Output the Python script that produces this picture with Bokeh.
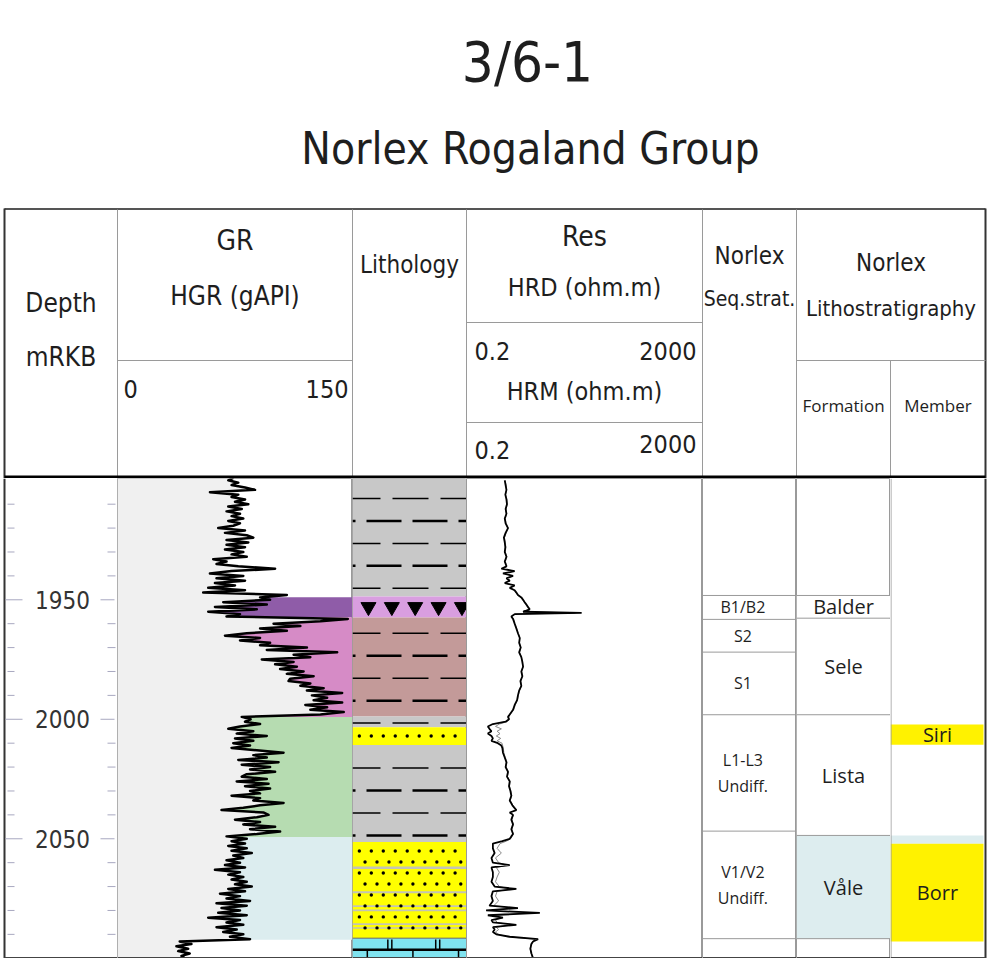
import numpy as np
from bokeh.plotting import figure
from bokeh.layouts import column, row
from bokeh.models import Range1d, Span
from bokeh.core.properties import value
from bokeh.embed import file_html
from bokeh.resources import INLINE

# ---------------- data ----------------
title_well = "3/6-1"
title_group = "Norlex Rogaland Group"

depth_major = [1950, 2000, 2050]
depth_minor = [1910, 1920, 1930, 1940, 1960, 1970, 1980, 1990,
               2010, 2020, 2030, 2040, 2060, 2070, 2080, 2090]

# Gamma ray (gAPI), one reading per metre 1899..2100
gr_depth = list(range(1899, 2101))
gr_values = [
    73.9, 70.7, 77.1, 72.8, 81.4, 87.8, 59.0, 77.1, 72.8, 81.4,
    75.0, 83.5, 70.7, 79.3, 69.6, 78.2, 72.8, 80.3, 70.7, 78.2,
    73.9, 64.3, 81.4, 68.6, 82.5, 86.7, 69.6, 83.5, 69.6, 81.4,
    68.6, 80.3, 72.8, 82.5, 61.1, 69.6, 63.2, 77.1, 100.6, 72.8,
    59.0, 80.3, 63.2, 81.4, 62.2, 75.0, 57.9, 81.4, 54.7, 108.1,
    91.0, 97.4, 67.5, 95.3, 62.2, 88.9, 57.9, 78.2, 69.6, 147.0,
    129.5, 99.6, 116.7, 91.0, 108.1, 82.5, 68.6, 91.0, 78.2, 97.4,
    91.0, 120.9, 95.3, 140.2, 112.4, 123.1, 92.1, 112.4, 100.6, 114.5,
    103.8, 118.8, 108.1, 125.2, 110.2, 109.2, 123.1, 116.7, 131.6, 120.9,
    143.4, 124.1, 133.8, 125.2, 143.4, 119.9, 133.8, 123.1, 144.4, 129.5,
    79.3,
    85.0, 81.4, 91.0, 78.2, 70.7, 86.7, 76.1, 95.3, 75.0, 86.7,
    73.9, 84.6, 72.8, 88.9, 106.0, 86.7, 95.3, 77.1, 102.8, 79.3,
    97.4, 84.6, 100.6, 82.5, 79.3, 95.3, 76.1, 96.4, 81.4, 97.4,
    84.6, 91.0, 72.8, 91.0, 86.7, 106.0, 91.0, 80.3, 66.4, 93.1,
    96.4, 88.9, 75.0, 91.0, 80.3, 100.6, 84.6, 103.8, 88.9, 69.6,
    82.5, 72.8, 81.4, 70.7, 82.5, 72.8, 85.7, 73.9, 80.3, 69.6,
    78.2, 68.6, 81.4, 62.2, 78.2, 70.7, 80.3, 72.8, 82.5, 75.0,
    85.7, 70.7, 81.4, 65.4, 78.2, 69.6, 84.6, 63.2, 82.5, 66.4,
    78.2, 64.3, 82.5, 57.9, 78.2, 69.6, 80.3, 63.2, 76.1, 67.5,
    80.3, 71.8, 84.6, 39.7, 47.2, 37.6, 45.1, 38.7, 46.1, 40.8,
    42.9,
]

# Resistivity (ohm.m)
res_depth = [
    1900, 1902, 1904, 1906, 1908, 1910, 1912, 1914, 1916, 1918,
    1920, 1922, 1924, 1926, 1928, 1930, 1932, 1934, 1936, 1937,
    1938, 1939, 1940, 1941, 1942, 1943, 1944, 1945, 1946, 1947,
    1948, 1949, 1950, 1951, 1952, 1953, 1954, 1955, 1955.5, 1956,
    1957, 1958, 1960, 1962, 1964, 1966, 1968, 1970, 1972, 1974,
    1976, 1978, 1980, 1982, 1984, 1986, 1988, 1990, 1992, 1994,
    1996, 1998, 1999, 2000, 2001, 2002, 2003, 2004, 2005, 2006,
    2007, 2008, 2009, 2010, 2011, 2012, 2014, 2016, 2018, 2020,
    2022, 2024, 2026, 2028, 2030, 2032, 2034, 2036, 2038, 2039,
    2040, 2042, 2044, 2046, 2048, 2049, 2050, 2051, 2052, 2054,
    2056, 2058, 2060, 2061, 2062, 2064, 2066, 2068, 2070, 2071,
    2072, 2074, 2076, 2078, 2079, 2080, 2081, 2082, 2083, 2084,
    2085, 2086, 2087, 2088, 2089, 2090, 2091, 2092, 2093, 2094,
    2096, 2098, 2100,
]
hrd = [
    0.89, 0.92, 0.95, 0.91, 0.95, 0.97, 0.92, 0.95, 0.89, 0.92,
    1.01, 0.92, 0.86, 0.89, 0.91, 0.89, 0.95, 0.89, 0.95, 0.78,
    1.31, 0.83, 1.23, 0.95, 1.08, 0.89, 1.31, 1.08, 1.31, 1.40,
    1.49, 1.70, 1.82, 1.94, 2.07, 2.21, 2.36, 1.82, 17.9, 1.31,
    1.15, 1.23, 1.31, 1.40, 1.49, 1.60, 1.56, 1.66, 1.56, 1.70,
    1.77, 1.82, 1.70, 1.77, 1.64, 1.70, 1.56, 1.49, 1.44, 1.31,
    1.23, 1.08, 1.01, 1.05, 0.92, 0.56, 0.46, 0.49, 0.53, 0.46,
    0.53, 0.56, 0.53, 0.68, 0.78, 0.81, 0.83, 0.89, 0.95, 0.92,
    1.01, 0.97, 1.08, 1.05, 1.11, 1.15, 1.08, 1.20, 1.40, 1.08,
    1.23, 1.15, 1.23, 1.15, 1.23, 1.15, 1.08, 0.81, 0.56, 0.56,
    0.60, 0.53, 0.56, 1.08, 0.53, 0.56, 0.56, 0.53, 0.60, 1.40,
    0.56, 0.53, 0.56, 0.49, 1.49, 0.43, 3.50, 0.46, 0.83, 0.53,
    0.56, 1.40, 0.56, 0.60, 0.56, 0.64, 1.08, 3.27, 2.69, 2.52,
    2.42, 2.52, 2.69,
]
hrm = [
    0.90, 0.94, 0.96, 0.92, 0.97, 0.98, 0.94, 0.96, 0.91, 0.94,
    1.02, 0.94, 0.88, 0.91, 0.93, 0.91, 0.97, 0.91, 0.97, 0.84,
    1.25, 0.88, 1.18, 0.98, 1.10, 0.92, 1.25, 1.10, 1.28, 1.38,
    1.47, 1.66, 1.78, 1.90, 2.02, 2.15, 2.28, 1.85, 14.0, 1.35,
    1.18, 1.25, 1.33, 1.42, 1.50, 1.60, 1.58, 1.66, 1.58, 1.70,
    1.76, 1.80, 1.72, 1.76, 1.66, 1.70, 1.58, 1.51, 1.46, 1.34,
    1.26, 1.10, 1.04, 1.07, 0.98, 0.72, 0.62, 0.78, 0.66, 0.74,
    0.64, 0.76, 0.66, 0.80, 0.82, 0.84, 0.86, 0.91, 0.97, 0.94,
    1.03, 0.99, 1.10, 1.07, 1.13, 1.17, 1.10, 1.22, 1.36, 1.12,
    1.24, 1.18, 1.24, 1.18, 1.24, 1.18, 1.12, 0.95, 0.74, 0.66,
    0.78, 0.62, 0.70, 0.95, 0.64, 0.72, 0.66, 0.62, 0.72, 1.10,
    0.66, 0.62, 0.70, 0.58, 1.20, 0.52, 2.20, 0.56, 0.80, 0.62,
    0.66, 1.10, 0.64, 0.70, 0.62, 0.70, 1.00, 2.90, 2.62, 2.48,
    2.40, 2.50, 2.66,
]

# GR track fill by formation
gr_fill_top = [1948.9, 1957.3, 1999.0, 2049.3]
gr_fill_base = [1957.3, 1999.0, 2049.3, 2092.3]
gr_fill_color = ["#8f5ca8", "#d68bc6", "#b6dcb1", "#dcedef"]

# Lithology column
lith_top = [1899.0, 1948.6, 1957.4, 1998.8, 2003.3, 2010.8, 2051.4, 2091.6]
lith_base = [1948.6, 1957.4, 1998.8, 2003.3, 2010.8, 2051.4, 2091.6, 2100.2]
lith_type = ["shale", "tuff", "shale", "shale", "sand", "shale", "sand", "limestone"]
lith_color = ["#c8c8c8", "#d99ee0", "#c39a99", "#c8c8c8", "#ffff00",
              "#c8c8c8", "#ffff00", "#80e3ef"]
streak_top = [2061.6, 2072.0, 2077.8, 2079.6, 2085.4, 2087.0]
streak_base = [2062.6, 2072.8, 2078.5, 2080.3, 2086.1, 2087.6]

# Norlex sequence stratigraphy
seq_top = [1948.2, 1958.2, 1971.9, 1998.1, 2046.8]
seq_base = [1958.2, 1971.9, 1998.1, 2046.8, 2091.8]
seq_line1 = ["B1/B2", "S2", "S1", "L1-L3", "V1/V2"]
seq_line2 = ["", "", "", "Undiff.", "Undiff."]

# Formations
form_top = [1948.2, 1957.7, 1998.1, 2048.6]
form_base = [1957.7, 1998.1, 2048.6, 2091.8]
form_name = ["Balder", "Sele", "Lista", "Våle"]
form_color = ["white", "white", "white", "#ddedef"]

# Members
mem_top = [2002.2, 2048.6, 2052.1]
mem_base = [2010.7, 2052.1, 2093.0]
mem_name = ["Siri", "", "Borr"]
mem_color = ["#fff200", "#ddedef", "#fff200"]

# ---------------- layout / style ----------------
NARROW = "'Liberation Sans Narrow', 'DejaVu Sans Condensed', sans-serif"
SANS = "'Open Sans', 'Noto Sans', sans-serif"
EDGES = [0, 117, 352, 466, 702, 796, 890, 989]   # column edges in page pixels
TRACK_W = [EDGES[i + 1] - EDGES[i] for i in range(7)]
TOTAL_W = EDGES[-1]
LEFT_B, RIGHT_B = 4, 985
HEADER_H = 478
BODY_H = 480
D_TOP, D_BASE = 1899.25, 2100.1
GRID = "#9a9a9a"
TXT = "#1e1e1e"


def make_fig(width, height, x_range, y_range, **kw):
    p = figure(width=width, height=height, x_range=x_range, y_range=y_range,
               output_backend="svg", toolbar_location=None,
               x_axis_location=None, y_axis_location=None, min_border=0, **kw)
    p.grid.visible = False
    p.background_fill_color = "white"
    p.border_fill_color = "white"
    p.outline_line_color = None
    return p


# ---------------- header ----------------
h = make_fig(TOTAL_W, HEADER_H, Range1d(0, TOTAL_W), Range1d(HEADER_H, 0))
E = EDGES
c = [(E[i] + E[i + 1]) / 2 for i in range(7)]
c[0] = (LEFT_B + E[1]) / 2
c[6] = (E[6] + RIGHT_B) / 2

h.segment(x0=[LEFT_B], y0=[208.5], x1=[RIGHT_B], y1=[208.5], line_color="#555555", line_width=2)
h.segment(x0=[LEFT_B, RIGHT_B], y0=[208, 208], x1=[LEFT_B, RIGHT_B], y1=[478, 478],
          line_color="#333333", line_width=2)
vx = [E[1], E[2], E[3], E[4], E[5], E[6]]
vy0 = [209, 209, 209, 209, 209, 360]
h.segment(x0=vx, y0=vy0, x1=vx, y1=[478] * 6, line_color=GRID, line_width=1)
h.segment(x0=[E[1], E[3], E[3], E[5]], y0=[360, 322, 422, 360],
          x1=[E[2], E[4], E[4], RIGHT_B], y1=[360, 322, 422, 360],
          line_color=GRID, line_width=1)
h.segment(x0=[LEFT_B], y0=[476.5], x1=[RIGHT_B], y1=[476.5], line_color="black", line_width=3)

h.text(x=[527], y=[61], text=[title_well], text_font=value(NARROW),
       text_font_size=value("56px"), text_align="center", text_baseline="middle",
       text_color=TXT)
h.text(x=[530], y=[148], text=[title_group], text_font=value(NARROW),
       text_font_size=value("44px"), text_align="center", text_baseline="middle",
       text_color=TXT)

lith_c = (E[5] + RIGHT_B) / 2
hx = [c[0], c[0], c[1], c[1], c[2], c[3], c[3], c[3], c[4], c[4], lith_c, lith_c]
hy = [302, 356, 240, 295, 264, 236, 287, 391, 255, 298, 262, 308]
ht = ["Depth", "mRKB", "GR", "HGR (gAPI)", "Lithology", "Res", "HRD (ohm.m)",
      "HRM (ohm.m)", "Norlex", "Seq.strat.", "Norlex", "Lithostratigraphy"]
hs = ["26px", "26px", "28px", "26px", "24px", "28px", "25px", "25px",
      "24px", "21px", "24px", "22px"]
h.text(x=hx, y=hy, text=ht, text_font=value(NARROW), text_font_size=hs,
       text_align="center", text_baseline="middle", text_color=TXT)
sx = [E[1] + 6, E[2] - 4, E[3] + 8, E[4] - 6, E[3] + 8, E[4] - 6]
sy = [388, 388, 350, 350, 449, 443]
st = ["0", "150", "0.2", "2000", "0.2", "2000"]
sa = ["left", "right", "left", "right", "left", "right"]
h.text(x=sx, y=sy, text=st, text_align=sa, text_font=value(NARROW),
       text_font_size=value("25px"), text_baseline="middle", text_color=TXT)
h.text(x=[c[5], c[6]], y=[405, 405], text=["Formation", "Member"],
       text_font=value(SANS), text_font_size=value("17px"), text_align="center",
       text_baseline="middle", text_color=TXT)

# ---------------- body tracks ----------------
yr = Range1d(D_BASE, D_TOP)


def body_fig(i, x_range, outline=True, **kw):
    p = make_fig(TRACK_W[i], BODY_H, x_range, yr, **kw)
    if outline:
        p.outline_line_color = GRID
        p.outline_line_width = 1
        p.add_layout(Span(location=D_BASE, dimension="width", line_color="#444444",
                          line_width=3))
    return p


# depth track (x in page pixels)
pd_ = body_fig(0, Range1d(0, E[1]), outline=False)
pd_.segment(x0=[LEFT_B], y0=[D_TOP], x1=[LEFT_B], y1=[D_BASE], line_color="#333333", line_width=2)
pd_.segment(x0=[LEFT_B], y0=[D_BASE], x1=[E[1]], y1=[D_BASE], line_color="#444444", line_width=3)
tick_c = "#a8a8c0"
pd_.segment(x0=7, y0=depth_minor, x1=14, y1=depth_minor, line_color=tick_c, line_width=1)
pd_.segment(x0=107, y0=depth_minor, x1=115, y1=depth_minor, line_color=tick_c, line_width=1)
pd_.segment(x0=5, y0=depth_major, x1=22, y1=depth_major, line_color=tick_c, line_width=1)
pd_.segment(x0=100, y0=depth_major, x1=114, y1=depth_major, line_color=tick_c, line_width=1)
pd_.text(x=[62] * len(depth_major), y=depth_major, text=[str(d) for d in depth_major],
         text_font=value(NARROW), text_font_size=value("24px"), text_align="center",
         text_baseline="middle", text_color="#333333")

# GR track
pg = body_fig(1, Range1d(0, 150))
gd = np.asarray(gr_depth, float)
gv = np.asarray(gr_values, float)
pg.harea(x1=0, x2=gv, y=gd, fill_color="#f0f0f0")


def clip_curve(top, base):
    m = (gd > top) & (gd < base)
    dd = np.concatenate([[top], gd[m], [base]])
    vv = np.concatenate([[np.interp(top, gd, gv)], gv[m], [np.interp(base, gd, gv)]])
    return dd, vv


for t, b, col in zip(gr_fill_top, gr_fill_base, gr_fill_color):
    dd, vv = clip_curve(t, b)
    pg.harea(x1=vv, x2=150, y=dd, fill_color=col)
pg.line(x=gv, y=gd, line_color="black", line_width=2.5, line_join="round")

# Lithology track
pl = body_fig(2, Range1d(0, 1))
pl.quad(left=0, right=1, top=lith_top, bottom=lith_base, fill_color=lith_color,
        line_color=None)
pl.quad(left=0, right=1, top=streak_top, bottom=streak_base, fill_color="#c4c4b4",
        line_color=None)
# sand dot texture
dx, dy = [], []
for t, b, kk in zip(lith_top, lith_base, lith_type):
    if kk != "sand":
        continue
    for j, d in enumerate(np.arange(t + 3.7, b - 1.0, 4.6)):
        xs = np.arange(0.06 + (0.05 if j % 2 else 0.0), 0.99, 0.105)
        dx.extend(xs)
        dy.extend([d] * len(xs))
pl.scatter(x=dx, y=dy, marker="circle", size=3.4, fill_color="black", line_color=None)
# shale dash rows on a regular 9.4 m texture grid
rows = np.arange(1907.6, 2100, 9.4)
for k, d in enumerate(rows):
    inside = [(t, b) for t, b, kk in zip(lith_top, lith_base, lith_type)
              if kk == "shale" and t + 1.0 < d < b + 0.6]
    if not inside:
        continue
    if k % 2 == 0:
        pl.segment(x0=[0], y0=[d], x1=[1], y1=[d], line_color="black", line_width=1.5,
                   line_dash="36 12", line_dash_offset=8)
    else:
        pl.segment(x0=[0], y0=[d], x1=[1], y1=[d], line_color="black", line_width=2.5,
                   line_dash="35 11", line_dash_offset=32)
for t, b, kk in zip(lith_top, lith_base, lith_type):
    if kk == "tuff":
        pl.scatter(x=[0.14, 0.345, 0.55, 0.755, 0.96], y=[(t + b) / 2] * 5,
                   marker="inverted_triangle", size=15, fill_color="black",
                   line_color="black")
    if kk == "limestone":
        mid = t + 4.8
        pl.segment(x0=[0], y0=[mid], x1=[1], y1=[mid], line_color="black", line_width=2.5)
        pl.segment(x0=[0], y0=[t], x1=[1], y1=[t], line_color="#666666", line_width=1)
        bx = [0.31, 0.345, 0.73, 0.765]
        pl.segment(x0=bx, y0=[t + 0.5] * 4, x1=bx, y1=[mid] * 4, line_color="black",
                   line_width=1.5)
        lx = [0.13, 0.53, 0.93]
        pl.segment(x0=lx, y0=[mid] * 3, x1=lx, y1=[b] * 3, line_color="black",
                   line_width=1.5)

# Resistivity track
pr = body_fig(3, Range1d(0.2, 2000), x_axis_type="log")
pr.line(x=hrm, y=res_depth, line_color="#8a8a8a", line_width=1)
pr.line(x=hrd, y=res_depth, line_color="black", line_width=1.8)

# Sequence stratigraphy
ps = body_fig(4, Range1d(0, 1))
bnd = sorted(set(seq_top) | set(seq_base))
ps.segment(x0=0, y0=bnd, x1=1, y1=bnd, line_color=GRID, line_width=1)
smid = [(t + b) / 2 for t, b in zip(seq_top, seq_base)]
one = [m for m, l2 in zip(smid, seq_line2) if not l2]
one_t = [l1 for l1, l2 in zip(seq_line1, seq_line2) if not l2]
two = [m for m, l2 in zip(smid, seq_line2) if l2]
two_t1 = [l1 for l1, l2 in zip(seq_line1, seq_line2) if l2]
two_t2 = [l2 for l2 in seq_line2 if l2]
kw_s = dict(text_font=value(SANS), text_font_size=value("16px"), text_align="center",
            text_baseline="middle", text_color=TXT)
ps.text(x=[0.43] * len(one), y=one, text=one_t, **kw_s)
ps.text(x=[0.43] * len(two), y=two, text=two_t1, y_offset=-13, **kw_s)
ps.text(x=[0.43] * len(two), y=two, text=two_t2, y_offset=13, **kw_s)

# Formation
pf = body_fig(5, Range1d(0, 1))
pf.quad(left=0, right=1, top=form_top, bottom=form_base, fill_color=form_color,
        line_color=None)
fb = sorted(set(form_top) | set(form_base))
pf.segment(x0=0, y0=fb, x1=1, y1=fb, line_color=GRID, line_width=1)
pf.text(x=[0.5] * len(form_name), y=[(t + b) / 2 for t, b in zip(form_top, form_base)],
        text=form_name, text_font=value(SANS), text_font_size=value("20px"),
        text_align="center", text_baseline="middle", text_color=TXT)

# Member (x in page pixels)
pm = body_fig(6, Range1d(E[6], E[7]), outline=False)
pm.quad(left=E[6], right=RIGHT_B - 2, top=mem_top, bottom=mem_base, fill_color=mem_color,
        line_color=None)
pm.segment(x0=[E[6] + 0.5, RIGHT_B], y0=[D_TOP, D_TOP], x1=[E[6] + 0.5, RIGHT_B],
           y1=[D_BASE, D_BASE], line_color=[GRID, "#333333"], line_width=[1, 2])
pm.segment(x0=[E[6]], y0=[D_BASE], x1=[RIGHT_B], y1=[D_BASE], line_color="#444444", line_width=3)
pm.text(x=[937] * len(mem_name), y=[(t + b) / 2 for t, b in zip(mem_top, mem_base)],
        text=mem_name, text_font=value(SANS), text_font_size=value("20px"),
        text_align="center", text_baseline="middle", text_color=TXT)

body = row(pd_, pg, pl, pr, ps, pf, pm)
layout = column(h, body)

open("out.html", "w").write(file_html(layout, INLINE))
